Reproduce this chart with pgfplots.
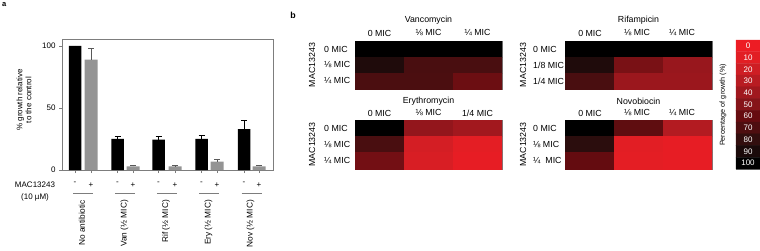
\documentclass[border=0pt]{standalone}
\usepackage{fontspec}
\setmainfont{Liberation Sans}
\usepackage{pgfplots}
\pgfplotsset{compat=1.18}
\definecolor{barGray}{RGB}{148,148,148}
\definecolor{frameGray}{RGB}{125,125,125}
\pgfplotsset{colormap={growth}{rgb255=(237,28,36) rgb255=(226,30,36) rgb255=(206,30,36) rgb255=(184,28,34) rgb255=(160,24,30) rgb255=(134,20,25) rgb255=(102,12,16) rgb255=(78,14,16) rgb255=(50,14,14) rgb255=(26,10,10) rgb255=(0,0,0)}}
\pgfplotsset{heat/.style={anchor=south west, scale only axis, width=147pt, xmin=-0.5, xmax=2.5, ymin=-0.5, ymax=2.5, y dir=reverse, enlargelimits=false, ticks=none, axis line style={draw=frameGray, line width=0.6pt}, colormap name=growth, point meta min=0, point meta max=100}}
\newcommand{\fa}{\fontsize{7.5}{8.5}\selectfont}
\newcommand{\fal}{\fontsize{8}{9.2}\selectfont}
\newcommand{\fb}{\fontsize{8.8}{10}\selectfont}
\begin{document}
\begin{tikzpicture}[x=1pt,y=1pt]
\useasboundingbox (0,0) rectangle (760,250);
% ---------- panel a ----------
\node[anchor=north west, inner sep=0pt, font=\fa\bfseries] at (2,248) {a};
\begin{axis}[at={(62pt,80pt)}, anchor=south west, scale only axis, width=211pt, height=131pt,
  xmin=62, xmax=273, ymin=0, ymax=105.6, clip=false,
  axis line style={draw=frameGray, line width=0.6pt},
  ytick={0,50,100}, xtick={75,91,117.5,133,158.5,175,201.5,217,244,259},
  xticklabels={-,+,-,+,-,+,-,+,-,+},
  tick align=outside, tick pos=left, major tick length=3pt,
  tick style={draw=frameGray, line width=0.6pt},
  ticklabel style={font=\fal}, xticklabel style={yshift=-6pt},
  /pgf/number format/assume math mode=true]
\addplot[ybar, bar width=12.5pt, bar shift=0pt, fill=black, draw=none,
  error bars/.cd, y dir=plus, y explicit,
  error bar style={black, line width=0.8pt},
  error mark options={rotate=90, mark size=3pt, black, line width=0.8pt}]
  coordinates {(75,100) +- (0,0) (117.5,25) +- (0,2.3) (158.5,24.5) +- (0,2.5) (201.5,25) +- (0,2.8) (244,33) +- (0,7)};
\addplot[ybar, bar width=13pt, bar shift=0pt, fill=barGray, draw=none,
  error bars/.cd, y dir=plus, y explicit,
  error bar style={black!65, line width=0.8pt},
  error mark options={rotate=90, mark size=3pt, black!65, line width=0.8pt}]
  coordinates {(91,89) +- (0,9) (133,3) +- (0,0.7) (175,3) +- (0,0.6) (217,6.7) +- (0,1.5) (259,3) +- (0,0.8)};
\end{axis}
\node[rotate=90, align=center, font=\fal, inner sep=0pt] at (24,150) {\% growth relative\\to the control};
\node[font=\fal, inner sep=0pt] at (35,65) {MAC13243};
\node[font=\fal, inner sep=0pt] at (35,53) {(10 µM)};
\foreach \c in {83,125.25,166.75,209.25,251.5}{\draw[frameGray, line width=0.7pt] (\c-10,57) -- (\c+10,57);}
\begin{scope}[every node/.style={rotate=90, anchor=east, font=\fontsize{8.3}{9.5}\selectfont, inner sep=0pt}]
\node at (82,50) {No antibiotic};
\node at (124.5,50) {Van (½ MIC)};
\node at (166,50) {Rif (½ MIC)};
\node at (208.5,50) {Ery (½ MIC)};
\node at (250.5,50) {Nov (½ MIC)};
\end{scope}
% ---------- panel b ----------
\node[font=\fb\bfseries, inner sep=0pt] at (293,235) {b};
% Vancomycin
\begin{axis}[heat, at={(355pt,161pt)}, height=48pt]
\addplot[matrix plot*, mesh/cols=3, point meta=explicit] table[meta=c] {
x y c
0 0 100
1 0 100
2 0 100
0 1 88
1 1 72
2 1 72
0 2 71
1 2 71
2 2 58
};
\end{axis}
% Erythromycin
\begin{axis}[heat, at={(355pt,81pt)}, height=49pt]
\addplot[matrix plot*, mesh/cols=3, point meta=explicit] table[meta=c] {
x y c
0 0 100
1 0 45
2 0 39
0 1 72
1 1 17
2 1 8
0 2 56
1 2 15
2 2 5
};
\end{axis}
% Rifampicin
\begin{axis}[heat, at={(565pt,161pt)}, height=48pt]
\addplot[matrix plot*, mesh/cols=3, point meta=explicit] table[meta=c] {
x y c
0 0 100
1 0 100
2 0 100
0 1 88
1 1 54
2 1 43
0 2 72
1 2 42
2 2 42
};
\end{axis}
% Novobiocin
\begin{axis}[heat, at={(565pt,81pt)}, height=49pt]
\addplot[matrix plot*, mesh/cols=3, point meta=explicit] table[meta=c] {
x y c
0 0 100
1 0 63
2 0 32
0 1 83
1 1 10
2 1 5
0 2 61
1 2 8
2 2 5
};
\end{axis}
% heatmap texts
\begin{scope}[every node/.style={font=\fb, inner sep=0pt}]
\node at (428.5,230) {Vancomycin};
\node at (379.5,217) {0 MIC}; \node at (428.5,217) {⅛ MIC}; \node at (477.5,217) {¼ MIC};
\node[anchor=west] at (324,201) {0 MIC}; \node[anchor=west] at (324,185) {⅛ MIC}; \node[anchor=west] at (324,169) {¼ MIC};
\node[rotate=90] at (312,185) {MAC13243};
\node at (428.5,149) {Erythromycin};
\node at (379.5,137) {0 MIC}; \node at (428.5,137) {⅛ MIC}; \node at (477.5,137) {1/4 MIC};
\node[anchor=west] at (324,122) {0 MIC}; \node[anchor=west] at (324,105.5) {⅛ MIC}; \node[anchor=west] at (324,89) {¼ MIC};
\node[rotate=90] at (312,105.5) {MAC13243};
\node at (638.5,230) {Rifampicin};
\node at (590,217) {0 MIC}; \node at (637,217) {⅛ MIC}; \node at (682,217) {¼ MIC};
\node[anchor=west] at (533,201) {0 MIC}; \node[anchor=west] at (533,185) {1/8 MIC}; \node[anchor=west] at (533,169) {1/4 MIC};
\node[rotate=90] at (523,185) {MAC13243};
\node at (638.5,149) {Novobiocin};
\node at (590,137) {0 MIC}; \node at (637,137) {⅛ MIC}; \node at (682,137) {¼ MIC};
\node[anchor=west] at (533,122) {0 MIC}; \node[anchor=west] at (533,105.5) {⅛ MIC}; \node[anchor=west] at (533,89) {¼\ \ MIC};
\node[rotate=90] at (523,105.5) {MAC13243};
\end{scope}
% colour bar
\begin{axis}[anchor=south west, at={(736pt,81pt)}, scale only axis, width=24pt, height=129pt,
  xmin=-0.5, xmax=1.5, ymin=-0.5, ymax=10.5, y dir=reverse, enlargelimits=false, ticks=none,
  axis line style={draw=frameGray, line width=0.4pt}, colormap name=growth,
  point meta min=0, point meta max=100, clip=false]
\addplot[matrix plot*, mesh/cols=2, point meta=explicit] table[meta=c] {
x y c
0 0 0
1 0 0
0 1 10
1 1 10
0 2 20
1 2 20
0 3 30
1 3 30
0 4 40
1 4 40
0 5 50
1 5 50
0 6 60
1 6 60
0 7 70
1 7 70
0 8 80
1 8 80
0 9 90
1 9 90
0 10 100
1 10 100
};
\addplot[draw=none, mark=none, nodes near coords, point meta=explicit symbolic,
  nodes near coords style={anchor=center, text=white, font=\fontsize{8}{9}\selectfont, inner sep=0pt}] table[meta=l] {
x y l
0.5 0 0
0.5 1 10
0.5 2 20
0.5 3 30
0.5 4 40
0.5 5 50
0.5 6 60
0.5 7 70
0.5 8 80
0.5 9 90
0.5 10 100
};
\end{axis}
\node[rotate=90, font=\fontsize{7.2}{8}\selectfont, inner sep=0pt] at (723,145) {Percentage of growth (\%)};
\end{tikzpicture}
\end{document}
